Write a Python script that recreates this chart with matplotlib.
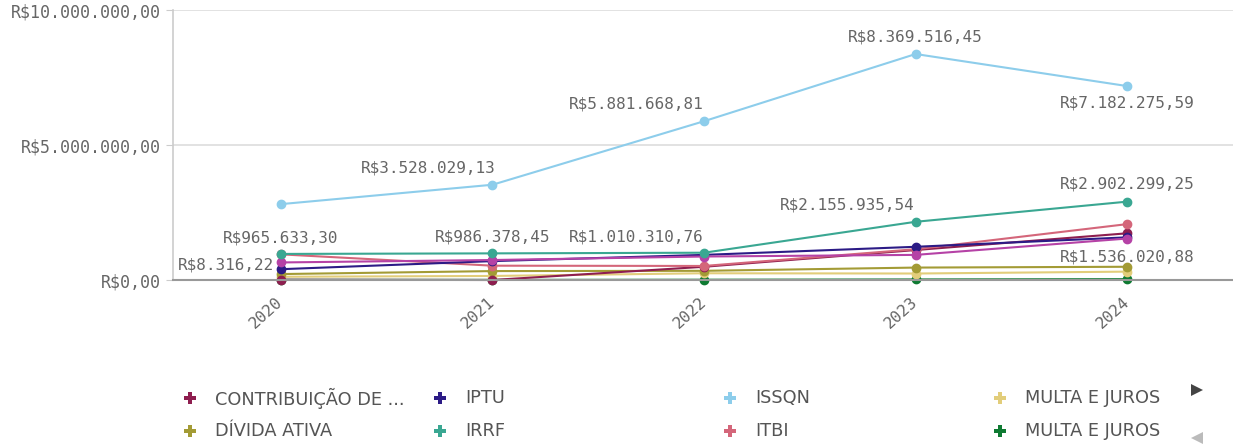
import matplotlib.pyplot as plt
from matplotlib.lines import Line2D

years = ["2020", "2021", "2022", "2023", "2024"]

# values in R$
contribuicao = [8316.22, 0, 490000, 1110000, 1730000]
iptu = [400000, 700000, 930000, 1230000, 1580000]
issqn = [2810000, 3528029.13, 5881668.81, 8369516.45, 7182275.59]
multa_juros_a = [120000, 150000, 250000, 240000, 310000]
divida_ativa = [220000, 330000, 340000, 460000, 490000]
irrf = [965633.30, 986378.45, 1010310.76, 2155935.54, 2902299.25]
itbi = [950000, 530000, 520000, 1140000, 2070000]
multa_juros_b = [10000, 5000, 10000, 20000, 30000]
outras = [650000, 740000, 870000, 930000, 1536020.88]

legend_names = ["CONTRIBUIÇÃO DE ...", "IPTU", "ISSQN", "MULTA E JUROS",
                "DÍVIDA ATIVA", "IRRF", "ITBI", "MULTA E JUROS"]

colors = {
    "contribuicao": "#8e1e4f",
    "iptu": "#2c1b86",
    "issqn": "#8dcdeb",
    "multa_a": "#e2cd7a",
    "divida": "#a39b35",
    "irrf": "#3aa792",
    "itbi": "#d4667a",
    "multa_b": "#0e7a32",
    "outras": "#b542a6",
}

series = [
    (multa_juros_b, colors["multa_b"]),
    (multa_juros_a, colors["multa_a"]),
    (divida_ativa, colors["divida"]),
    (contribuicao, colors["contribuicao"]),
    (itbi, colors["itbi"]),
    (iptu, colors["iptu"]),
    (outras, colors["outras"]),
    (irrf, colors["irrf"]),
    (issqn, colors["issqn"]),
]


def brl(v):
    s = f"{v:,.2f}"
    s = s.replace(",", "X").replace(".", ",").replace("X", ".")
    return "R$" + s


mono = "DejaVu Sans Mono"
gray = "#666666"

fig = plt.figure(figsize=(12.33, 4.44), dpi=100)
ax = fig.add_axes([173 / 1233, 1 - 280 / 444, 1 - 173 / 1233, 270 / 444])

x = list(range(len(years)))
for vals, c in series:
    ax.plot(x, vals, color=c, lw=1.5, marker="o", markersize=6, clip_on=False)

ax.set_xlim(-0.51, 4.5)
ax.set_ylim(0, 10000000)
ax.set_yticks([0, 5000000, 10000000])
ax.set_yticklabels([brl(v) for v in [0, 5000000, 10000000]], fontfamily=mono,
                   fontsize=12, color=gray)
ax.set_xticks(x)
ax.set_xticklabels(years, rotation=42, ha="right", va="center", rotation_mode="anchor",
                   fontfamily=mono, fontsize=11.5, color=gray)
for lab in ax.get_xticklabels():
    lab.set_x(lab.get_position()[0])
ax.tick_params(axis="x", length=0, pad=14)
ax.tick_params(axis="y", length=5, color="#cccccc", pad=4)
ax.grid(axis="y", color="#dddddd", lw=1.2)
ax.set_axisbelow(True)
for s in ["top", "right"]:
    ax.spines[s].set_visible(False)
ax.spines["left"].set_color("#cccccc")
ax.spines["left"].set_linewidth(1.2)
ax.spines["bottom"].set_color("#999999")
ax.spines["bottom"].set_linewidth(1.5)

# data labels: (values, index, dx px, dy px)
labels = [
    (issqn, 1, -64, 17), (issqn, 2, -68, 17), (issqn, 3, 0, 17), (issqn, 4, 0, -17),
    (irrf, 0, 0, 16), (irrf, 1, 0, 16), (irrf, 2, -68, 16), (irrf, 3, -68, 17),
    (irrf, 4, 0, 18), (outras, 4, 0, -18), (contribuicao, 0, -55, 15),
]
for vals, i, dx, dy in labels:
    ax.annotate(brl(vals[i]), (i, vals[i]), xytext=(dx, dy), textcoords="offset pixels",
                ha="center", va="center", fontfamily=mono, fontsize=11.5, color=gray)

# legend
leg_colors = [colors["contribuicao"], colors["iptu"], colors["issqn"], colors["multa_a"],
              colors["divida"], colors["irrf"], colors["itbi"], colors["multa_b"]]
col_x = [190, 440, 730, 1000]
row_y = [398, 431]
for k, (name, c) in enumerate(zip(legend_names, leg_colors)):
    px = col_x[k % 4]
    py = row_y[k // 4]
    fig.add_artist(Line2D([px / 1233], [1 - py / 444], marker="P", color=c,
                          markersize=8, markeredgewidth=0, linestyle="none"))
    fig.text((px + 25) / 1233, 1 - py / 444, name, ha="left", va="center",
             fontsize=12.8, color="#555555", family="DejaVu Sans")

fig.add_artist(Line2D([1197 / 1233], [1 - 390 / 444], marker=">", color="#444444",
                      markersize=8, markeredgewidth=0, linestyle="none"))
fig.add_artist(Line2D([1197 / 1233], [1 - 438 / 444], marker="<", color="#bbbbbb",
                      markersize=8, markeredgewidth=0, linestyle="none"))

fig.savefig("out.png", dpi=100)
